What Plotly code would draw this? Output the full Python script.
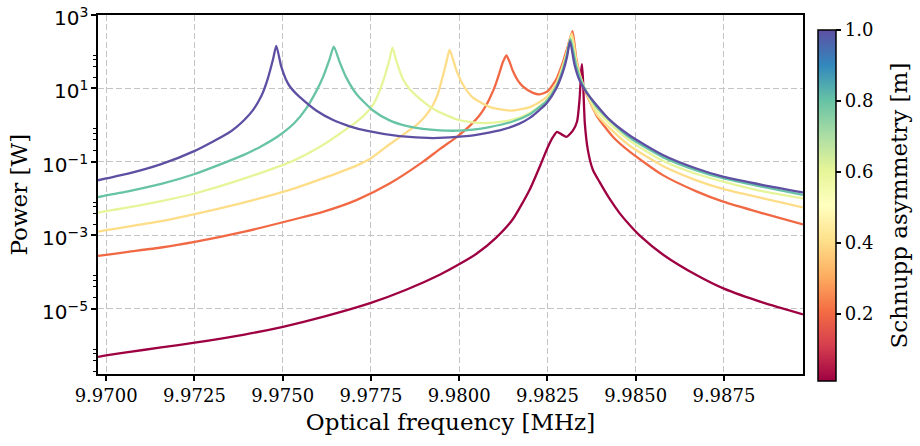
import math
import plotly.graph_objects as go
from plotly.colors import sample_colorscale
import plotly.express as px

# Schnupp asymmetry of each curve [m]
asymmetry = [0.01, 0.2, 0.4, 0.6, 0.8, 1.0]

# ---- curve data (frequency in MHz, power in W) ----
freq_a001 = [9.96977, 9.97000, 9.97062, 9.97156, 9.97251, 9.97392, 9.97501, 9.97614, 9.97750, 9.97850,
             9.97945, 9.98001, 9.98049, 9.98105, 9.98152, 9.98200, 9.98233, 9.98251, 9.98266, 9.98277,
             9.98290, 9.98304, 9.98322, 9.98334, 9.98341, 9.98346, 9.98348, 9.98351, 9.98356, 9.98365,
             9.98379, 9.98398, 9.98426, 9.98455, 9.98483, 9.98511, 9.98577, 9.98672, 9.98750, 9.98861,
             9.98974]
power_a001 = [4.90e-7, 5.37e-7, 6.61e-7, 8.91e-7, 1.20e-6, 2.00e-6, 3.24e-6, 6.03e-6, 1.45e-5, 3.31e-5,
              8.51e-5, 1.66e-4, 3.16e-4, 8.71e-4, 2.75e-3, 1.78e-2, 9.55e-2, 0.251, 0.479, 0.661,
              0.562, 0.479, 0.708, 1.26, 5.01, 31.6, 45.7, 15.8, 1.12, 0.200,
              0.0603, 0.0282, 1.00e-2, 3.98e-3, 1.91e-3, 1.00e-3, 3.02e-4, 8.32e-5, 3.55e-5, 1.48e-5,
              7.08e-6]

freq_a02 = [9.96977, 9.97000, 9.97062, 9.97156, 9.97251, 9.97392, 9.97534, 9.97614, 9.97709, 9.97803,
            9.97897, 9.97945, 9.97992, 9.98030, 9.98058, 9.98077, 9.98086, 9.98101, 9.98115, 9.98124,
            9.98134, 9.98143, 9.98152, 9.98166, 9.98181, 9.98209, 9.98228, 9.98250, 9.98275, 9.98294,
            9.98307, 9.98321, 9.98332, 9.98351, 9.98389, 9.98436, 9.98483, 9.98577, 9.98672, 9.98750,
            9.98861, 9.98974]
power_a02 = [2.75e-4, 2.95e-4, 3.55e-4, 4.68e-4, 6.61e-4, 1.26e-3, 2.75e-3, 4.37e-3, 9.12e-3, 2.57e-2,
             0.100, 0.224, 0.468, 0.955, 1.86, 3.55, 5.25, 11.2, 28.2, 52.5,
             79.4, 52.5, 30.2, 16.6, 11.2, 7.59, 6.92, 8.32, 17.8, 52.5,
             132, 363, 63.1, 12.0, 1.86, 0.479, 0.191, 0.0437, 0.0158, 8.13e-3,
             3.98e-3, 2.00e-3]

freq_a04 = [9.96977, 9.97000, 9.97062, 9.97156, 9.97251, 9.97392, 9.97534, 9.97614, 9.97709, 9.97750,
            9.97803, 9.97879, 9.97902, 9.97926, 9.97940, 9.97954, 9.97964, 9.97973, 9.97992, 9.98011,
            9.98039, 9.98086, 9.98105, 9.98152, 9.98200, 9.98228, 9.98248, 9.98275, 9.98294, 9.98307,
            9.98319, 9.98333, 9.98351, 9.98389, 9.98436, 9.98483, 9.98577, 9.98672, 9.98750, 9.98861,
            9.98974]
power_a04 = [1.26e-3, 1.38e-3, 1.74e-3, 2.45e-3, 3.80e-3, 7.94e-3, 1.91e-2, 3.55e-2, 7.94e-2, 0.126,
             0.302, 1.00, 1.66, 3.55, 7.24, 22.4, 52.5, 112, 31.6, 12.6,
             5.62, 3.16, 2.82, 2.51, 3.09, 4.27, 5.89, 13.5, 42.7, 112,
             316, 50.1, 12.6, 2.00, 0.676, 0.275, 0.0776, 0.0316, 0.0182, 0.0102,
             5.75e-3]

freq_a06 = [9.96977, 9.97000, 9.97062, 9.97156, 9.97251, 9.97392, 9.97534, 9.97614, 9.97709, 9.97732,
            9.97756, 9.97769, 9.97784, 9.97803, 9.97811, 9.97822, 9.97841, 9.97860, 9.97879, 9.97926,
            9.97992, 9.98039, 9.98086, 9.98152, 9.98200, 9.98228, 9.98248, 9.98275, 9.98294, 9.98306,
            9.98317, 9.98332, 9.98351, 9.98389, 9.98436, 9.98483, 9.98577, 9.98672, 9.98750, 9.98861,
            9.98974]
power_a06 = [4.17e-3, 4.57e-3, 5.75e-3, 8.51e-3, 1.38e-2, 3.55e-2, 0.112, 0.288, 1.23, 1.91,
             3.55, 6.31, 15.1, 63.1, 129, 56.2, 17.8, 9.55, 6.31, 2.82,
             1.45, 1.20, 1.15, 1.41, 2.14, 3.31, 4.79, 11.7, 36.3, 95.5,
             257, 44.7, 12.6, 2.63, 0.912, 0.380, 0.107, 0.0468, 0.0288, 0.0158,
             0.0102]

freq_a08 = [9.96977, 9.97000, 9.97062, 9.97156, 9.97251, 9.97392, 9.97440, 9.97487, 9.97534, 9.97567,
            9.97595, 9.97614, 9.97633, 9.97645, 9.97661, 9.97680, 9.97709, 9.97756, 9.97803, 9.97850,
            9.97897, 9.97945, 9.97992, 9.98039, 9.98086, 9.98152, 9.98200, 9.98228, 9.98248, 9.98275,
            9.98294, 9.98306, 9.98315, 9.98332, 9.98351, 9.98389, 9.98436, 9.98483, 9.98577, 9.98672,
            9.98750, 9.98861, 9.98974]
power_a08 = [1.10e-2, 1.23e-2, 1.58e-2, 2.51e-2, 4.68e-2, 0.158, 0.269, 0.501, 1.17, 2.88,
             8.32, 20.0, 63.1, 138, 53.7, 20.0, 7.08, 2.51, 1.35, 0.955,
             0.794, 0.724, 0.708, 0.759, 0.891, 1.26, 2.00, 3.16, 4.57, 11.2,
             33.1, 89.1, 224, 39.8, 12.0, 3.16, 1.12, 0.457, 0.135, 0.0589,
             0.0355, 0.0209, 0.0126]

freq_a10 = [9.96977, 9.97000, 9.97062, 9.97156, 9.97251, 9.97345, 9.97369, 9.97392, 9.97416, 9.97440,
            9.97458, 9.97473, 9.97482, 9.97496, 9.97509, 9.97520, 9.97534, 9.97548, 9.97595, 9.97643,
            9.97690, 9.97737, 9.97831, 9.97926, 9.98020, 9.98115, 9.98171, 9.98200, 9.98228, 9.98248,
            9.98275, 9.98294, 9.98306, 9.98314, 9.98327, 9.98341, 9.98360, 9.98389, 9.98426, 9.98483,
            9.98577, 9.98672, 9.98750, 9.98861, 9.98974]
power_a10 = [3.16e-2, 3.55e-2, 4.79e-2, 8.71e-2, 0.200, 0.603, 0.891, 1.41, 2.57, 6.31,
             18.6, 63.1, 145, 39.8, 17.8, 11.5, 7.94, 5.89, 2.51, 1.38,
             0.933, 0.708, 0.501, 0.447, 0.501, 0.724, 1.10, 1.58, 2.63, 3.98,
             10.0, 28.2, 75.9, 195, 43.7, 16.6, 7.94, 3.55, 1.41, 0.525,
             0.155, 0.0661, 0.0389, 0.0234, 0.0148]

# axis ticks
x_ticks = [9.9700, 9.9725, 9.9750, 9.9775, 9.9800, 9.9825, 9.9850, 9.9875]
y_ticks = [1e-5, 1e-3, 1e-1, 1e1, 1e3]
y_tick_text = ["10<sup>\u22125</sup>", "10<sup>\u22123</sup>", "10<sup>\u22121</sup>",
               "10<sup>1</sup>", "10<sup>3</sup>"]
y_minor = [m * 10.0 ** e for e in (-7, -5, -3, -1, 1) for m in (2, 4, 6, 8)]
cbar_ticks = [0.2, 0.4, 0.6, 0.8, 1.0]

freqs = [freq_a001, freq_a02, freq_a04, freq_a06, freq_a08, freq_a10]
powers = [power_a001, power_a02, power_a04, power_a06, power_a08, power_a10]
for f, p in zip(freqs, powers):
    assert len(f) == len(p), (len(f), len(p))

spectral = px.colors.diverging.Spectral
cmin, cmax = 0.01, 1.0
colors = sample_colorscale(spectral, [(a - cmin) / (cmax - cmin) for a in asymmetry])

serif = "DejaVu Serif"
sans = "DejaVu Sans"

fig = go.Figure()
for a, f, p, c in zip(asymmetry, freqs, powers, colors):
    fig.add_trace(go.Scatter(x=f, y=p, mode="lines",
                             line=dict(color=c, width=2.3, shape="spline", smoothing=0.6),
                             name=f"{a} m", showlegend=False, hoverinfo="skip"))

# colorbar carrier
fig.add_trace(go.Scatter(
    x=[None], y=[None], mode="markers", showlegend=False, hoverinfo="skip",
    marker=dict(color=[cmin], cmin=cmin, cmax=cmax, colorscale=spectral, showscale=True, size=0,
                colorbar=dict(
                    thickness=18, thicknessmode="pixels", len=351, lenmode="pixels",
                    x=1.0213, xanchor="left", xpad=0, y=0.4694, yanchor="middle", ypad=0,
                    outlinecolor="black", outlinewidth=1.5,
                    ticks="outside", ticklen=5, tickwidth=1.5, tickcolor="black",
                    tickvals=cbar_ticks, ticktext=[f"{v:.1f}" for v in cbar_ticks],
                    tickfont=dict(family=serif, size=18, color="black"),
                ))))

annotations = []
# y tick labels (matplotlib-style 10^n in sans)
for v, txt in zip(y_ticks, y_tick_text):
    annotations.append(dict(x=-0.0114, xref="paper", y=math.log10(v), yref="y",
                            text=txt, showarrow=False, xanchor="right", yanchor="middle",
                            yshift=-2, font=dict(family=sans, size=20, color="black")))
# axis / colorbar titles
annotations.append(dict(x=-0.1121, xref="paper", y=0.5, yref="paper", text="Power [W]",
                        textangle=-90, showarrow=False, xanchor="center", yanchor="middle",
                        font=dict(family=serif, size=23, color="black")))
annotations.append(dict(x=1.1362, xref="paper", y=0.4694, yref="paper", text="Schnupp asymmetry [m]",
                        textangle=-90, showarrow=False, xanchor="center", yanchor="middle",
                        font=dict(family=serif, size=23, color="black")))

fig.update_layout(
    width=920, height=446,
    margin=dict(l=98, r=117, t=15, b=72),
    plot_bgcolor="white", paper_bgcolor="white",
    font=dict(family=serif, size=18, color="black"),
    showlegend=False,
    annotations=annotations,
)
fig.update_xaxes(
    range=[9.96977, 9.98974],
    tickvals=x_ticks, ticktext=[f"{v:.4f}" for v in x_ticks],
    tickfont=dict(family=serif, size=18, color="black"),
    ticks="outside", ticklen=5, tickwidth=1.5, tickcolor="black",
    showline=True, linecolor="black", linewidth=1.6, mirror=True,
    showgrid=True, gridcolor="#c4c4c4", gridwidth=1, griddash="6px,3px",
    zeroline=False,
    title=dict(text="Optical frequency [MHz]", font=dict(family=serif, size=23, color="black"), standoff=8),
)
fig.update_yaxes(
    type="log", range=[-6.774, 3],
    tickvals=y_ticks, showticklabels=False,
    ticks="outside", ticklen=5, tickwidth=1.5, tickcolor="black",
    minor=dict(tickmode="array", tickvals=y_minor, ticks="outside", ticklen=3,
               tickwidth=1, tickcolor="black", showgrid=False),
    showline=True, linecolor="black", linewidth=1.6, mirror=True,
    showgrid=True, gridcolor="#c4c4c4", gridwidth=1, griddash="6px,3px",
    zeroline=False,
)

fig.write_html("out.html")
